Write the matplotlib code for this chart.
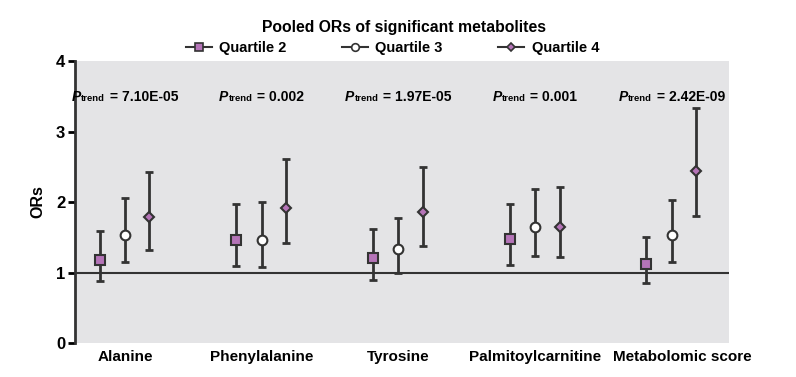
import numpy as np
import matplotlib.pyplot as plt
import matplotlib.transforms as mtransforms
from matplotlib.offsetbox import TextArea, HPacker, AnnotationBbox

plt.rcParams['font.family'] = ['Liberation Sans', 'DejaVu Sans']

metabolites = ['Alanine', 'Phenylalanine', 'Tyrosine', 'Palmitoylcarnitine', 'Metabolomic score']
p_trend = ['7.10E-05', '0.002', '1.97E-05', '0.001', '2.42E-09']

q2_or = [1.18, 1.46, 1.21, 1.47, 1.12]
q2_lo = [0.88, 1.09, 0.90, 1.10, 0.85]
q2_hi = [1.59, 1.97, 1.62, 1.97, 1.50]

q3_or = [1.53, 1.46, 1.33, 1.64, 1.53]
q3_lo = [1.15, 1.08, 0.99, 1.24, 1.15]
q3_hi = [2.06, 2.00, 1.78, 2.18, 2.03]

q4_or = [1.79, 1.92, 1.86, 1.64, 2.44]
q4_lo = [1.32, 1.42, 1.38, 1.22, 1.80]
q4_hi = [2.43, 2.61, 2.50, 2.21, 3.34]

purple = '#b574b8'
dark = '#333333'

fig = plt.figure(figsize=(7.96, 3.77), dpi=100)
ax = fig.add_axes([0.0942, 0.0902, 0.8218, 0.7478])
ax.set_facecolor('#e4e4e6')

x = np.arange(len(metabolites))
series = [
    ('Quartile 2', q2_or, q2_lo, q2_hi, -0.185, 's', purple, 7),
    ('Quartile 3', q3_or, q3_lo, q3_hi, 0.0, 'o', 'white', 7),
    ('Quartile 4', q4_or, q4_lo, q4_hi, 0.18, 'D', purple, 5.5),
]
for name, val, lo, hi, off, mk, fc, ms in series:
    val = np.array(val)
    err = [val - np.array(lo), np.array(hi) - val]
    ax.errorbar(x + off, val, yerr=err, fmt='none', ecolor=dark,
                elinewidth=2, capsize=3, capthick=2, zorder=2)
    ax.plot(x + off, val, linestyle='none', marker=mk, ms=ms,
            mfc=fc, mec=dark, mew=1.5, zorder=3)
    ax.plot([], [], color=dark, lw=1.5, marker=mk, ms=ms - 1.5, mfc=fc,
            mec=dark, mew=1.2, label=name)

ax.axhline(1, color=dark, lw=1.5, zorder=1)

# P trend labels: big italic P, small "trend", then the value
for i, p in enumerate(p_trend):
    parts = [
        TextArea('P', textprops=dict(fontsize=10, fontweight='bold', fontstyle='italic')),
        TextArea('trend', textprops=dict(fontsize=6.8, fontweight='bold')),
        TextArea(' = ' + p, textprops=dict(fontsize=10, fontweight='bold')),
    ]
    box = HPacker(children=parts, align='baseline', pad=0, sep=0.3)
    ab = AnnotationBbox(box, (x[i], 3.49), frameon=False, box_alignment=(0.5, 0.5))
    ax.add_artist(ab)

ax.set_xlim(-0.365, 4.42)
ax.set_ylim(0, 4)
ax.set_yticks([0, 1, 2, 3, 4])
ax.set_xticks(x)
ax.set_xticklabels(metabolites, fontsize=11, fontweight='bold')
ax.tick_params(axis='x', length=0, pad=5)
# last label sits a bit to the right in the original
lbl = ax.get_xticklabels()[-1]
lbl.set_transform(lbl.get_transform() + mtransforms.ScaledTranslation(0.11, 0, fig.dpi_scale_trans))
ax.tick_params(axis='y', direction='out', length=5, width=2, labelsize=12, pad=2)
for t in ax.get_yticklabels():
    t.set_fontweight('bold')
ax.set_ylabel('ORs', fontsize=11.5, fontweight='bold', labelpad=8)

for s in ['top', 'right', 'bottom']:
    ax.spines[s].set_visible(False)
ax.spines['left'].set_linewidth(2)
ax.spines['left'].set_color(dark)

fig.text(0.508, 0.928, 'Pooled ORs of significant metabolites', ha='center',
         va='center', fontsize=11.3, fontweight='bold')
fig.legend(loc='center', bbox_to_anchor=(0.493, 0.872), ncol=3, frameon=False,
           prop={'weight': 'bold', 'size': 10.5}, handlelength=1.8,
           columnspacing=3.8, handletextpad=0.5)

fig.savefig('out.png', dpi=100)
